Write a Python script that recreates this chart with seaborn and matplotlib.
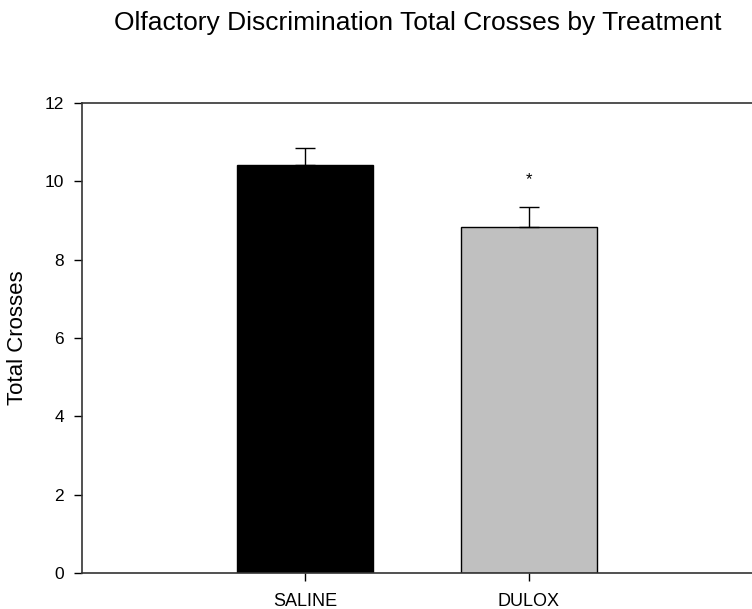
import pandas as pd
import seaborn as sns
import matplotlib.pyplot as plt

groups = ['SALINE', 'DULOX']
means = [10.42, 8.83]
sem = [0.43, 0.51]
colors = ['#000000', '#c0c0c0']

df = pd.DataFrame({'group': groups, 'crosses': means})

sns.set_style('ticks')
plt.rcParams['font.family'] = ['Liberation Sans', 'DejaVu Sans']
plt.rcParams['text.color'] = 'black'
plt.rcParams['axes.labelcolor'] = 'black'

fig = plt.figure(figsize=(7.52, 6.09), dpi=100)
ax = fig.add_axes([0.109, 0.059, 0.891, 0.772])

sns.barplot(x='group', y='crosses', data=df, hue='group', palette=colors,
            edgecolor='black', linewidth=1, width=0.61, legend=False, ax=ax)
ax.errorbar(range(len(groups)), means, yerr=[[0, 0], sem], fmt='none',
            ecolor='black', elinewidth=1, capsize=7, capthick=1)

# significance marker
ax.text(1, means[1] + sem[1] + 0.5, '*', ha='center', va='bottom', fontsize=12)

ax.set_xlim(-1, 2)
ax.set_ylim(0, 12)
ax.set_yticks(range(0, 13, 2))
ax.set_xlabel('')
ax.set_ylabel('Total Crosses', fontsize=16, labelpad=12)
ax.tick_params(axis='both', direction='out', length=6, width=1, colors='black', labelsize=12.5)
ax.tick_params(axis='y', pad=7)
ax.tick_params(axis='x', pad=8, labelsize=13)
for s in ['left', 'top', 'bottom']:
    ax.spines[s].set_color('#333333')
    ax.spines[s].set_linewidth(1.2)
ax.spines['right'].set_visible(False)

fig.suptitle('Olfactory Discrimination Total Crosses by Treatment', fontsize=19,
             x=0.556, y=0.982, va='top')

plt.savefig('out.png', dpi=100)
